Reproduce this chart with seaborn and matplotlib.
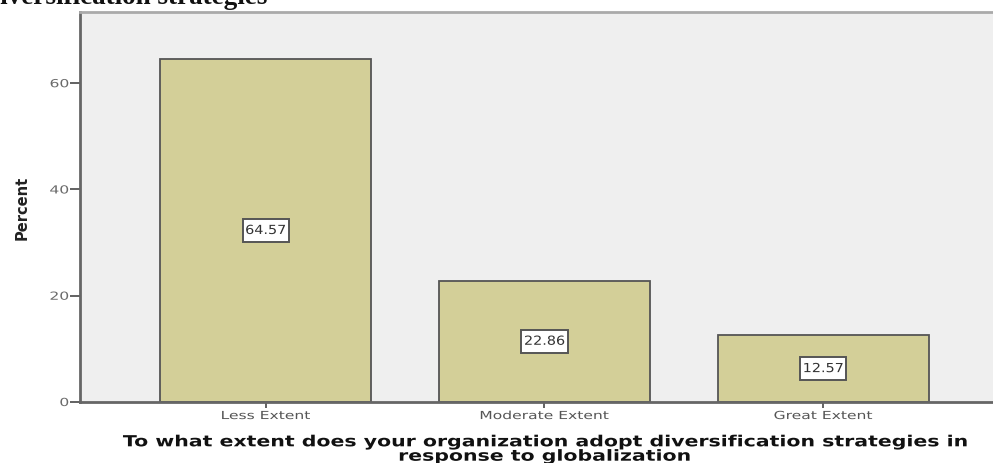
import matplotlib
matplotlib.use("Agg")
import matplotlib.pyplot as plt
import seaborn as sns
import pandas as pd
from matplotlib.patheffects import AbstractPathEffect
from matplotlib.transforms import Affine2D

categories = ["Less Extent", "Moderate Extent", "Great Extent"]
percents = [64.57, 22.86, 12.57]
yticks = [0, 20, 40, 60]
x_title = "To what extent does your organization adopt diversification strategies in\nresponse to globalization"
y_title = "Percent"
top_caption = "diversification strategies"

df = pd.DataFrame({"cat": categories, "pct": percents})


class HStretch(AbstractPathEffect):
    """Widen the glyphs horizontally (the reference text is drawn wide)."""
    def __init__(self, sx, anchor="center"):
        super().__init__()
        self.sx = sx
        self.anchor = anchor

    def draw_path(self, renderer, gc, tpath, affine, rgbFace=None):
        ext = tpath.get_extents(affine)
        if self.anchor == "center":
            cx = (ext.x0 + ext.x1) / 2
        elif self.anchor == "right":
            cx = ext.x1
        else:
            cx = ext.x0
        new = affine + Affine2D().translate(-cx, 0).scale(self.sx, 1).translate(cx, 0)
        renderer.draw_path(gc, tpath, new, rgbFace)


sns.set_style("white")
plt.rcParams["font.family"] = ["DejaVu Sans"]

fig = plt.figure(figsize=(9.93, 4.64), dpi=100)
ax = fig.add_axes([80/993, 61/464, 1 - 80/993 + 0.02, (403-13)/464])
ax.set_facecolor("#efefef")

sns.barplot(data=df, x="cat", y="pct", ax=ax, color="#d3cf98",
            edgecolor="#555555", linewidth=1.3, width=0.755, saturation=1)

ax.set_ylim(0, 73.4)
ax.set_xlim(-0.666, 2.68)
ax.set_yticks(yticks)
ax.set_yticklabels([str(t) for t in yticks], color="#6a6a6a", fontsize=8)
ax.tick_params(axis="y", direction="out", length=7, width=1.3, color="#555555",
               left=True, pad=1)
ax.tick_params(axis="x", direction="out", length=4.5, width=1.3, color="#555555",
               bottom=True, pad=2, labelsize=8, labelcolor="#555555")
for lab in ax.get_yticklabels():
    lab.set_path_effects([HStretch(1.4, "right")])
for lab in ax.get_xticklabels():
    lab.set_path_effects([HStretch(1.4, "center")])

for sp in ["left", "bottom"]:
    ax.spines[sp].set_color("#666666")
    ax.spines[sp].set_linewidth(2)
ax.spines["top"].set_color("#aaaaaa")
ax.spines["top"].set_linewidth(2)
ax.spines["right"].set_visible(False)

for i, v in enumerate(percents):
    ax.text(i, v / 2, f"{v:.2f}", ha="center", va="center", fontsize=9,
            color="#333333", path_effects=[HStretch(1.15, "center")],
            bbox=dict(boxstyle="square,pad=0.42", fc="white", ec="#555555", lw=1.4))

ax.set_xlabel("")
ax.set_ylabel(y_title, fontsize=10.5, fontweight="bold", color="#222222", labelpad=18)

fig.text(544/993, 1 - 450/464, x_title,
         ha="center", va="center", fontsize=11, fontweight="bold", color="#111111",
         linespacing=0.95, path_effects=[HStretch(1.34, "center")])

fig.text(-0.015, 1 - 4/464, top_caption, ha="left", va="baseline",
         fontsize=19.5, fontweight="bold", family="Liberation Serif", color="#111111")

fig.savefig("out.png", dpi=100)
